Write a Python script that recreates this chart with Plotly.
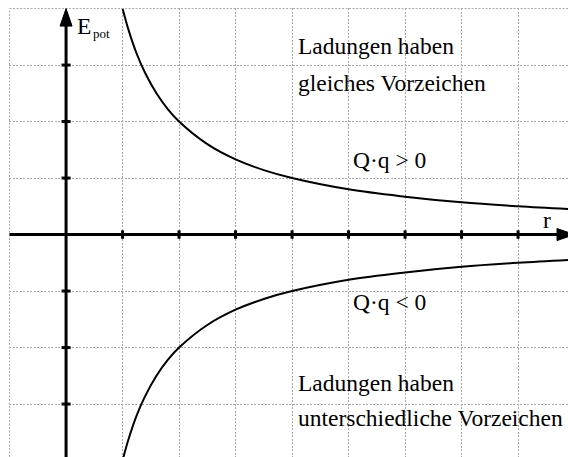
import plotly.graph_objects as go

# Sample points of the potential energy curves (r, E_pot)
r_values = [1.0, 1.1, 1.25, 1.4, 1.6, 1.8, 2.0, 2.5, 3.0, 3.5, 4.0, 5.0, 6.0, 7.0, 8.0, 8.9]
e_same_sign = [4.0, 3.64, 3.2, 2.86, 2.5, 2.22, 2.0, 1.6, 1.33, 1.14, 1.0, 0.8, 0.67, 0.57, 0.5, 0.45]
e_opposite_sign = [-4.0, -3.64, -3.2, -2.86, -2.5, -2.22, -2.0, -1.6, -1.33, -1.14, -1.0, -0.8, -0.67, -0.57, -0.5, -0.45]

x_ticks = [1, 2, 3, 4, 5, 6, 7, 8]
y_ticks = [-3, -2, -1, 1, 2, 3]

X_MIN, X_MAX = -1.01, 8.884
Y_MIN, Y_MAX = -3.937, 4.01

FONT = "Liberation Serif, Times New Roman, Times, serif"
GRID = "#a8a8a8"
GRID_DASH = "2px,1.5px"

fig = go.Figure()

fig.add_trace(go.Scatter(x=r_values, y=e_same_sign, mode="lines",
                         line=dict(color="black", width=2, shape="spline"),
                         hoverinfo="skip", showlegend=False))
fig.add_trace(go.Scatter(x=r_values, y=e_opposite_sign, mode="lines",
                         line=dict(color="black", width=2, shape="spline"),
                         hoverinfo="skip", showlegend=False))

shapes = []
# dotted frame on the top and left edges of the grid
shapes.append(dict(type="line", xref="x", yref="y", x0=-1, x1=X_MAX, y0=4, y1=4,
                   line=dict(color=GRID, width=1, dash=GRID_DASH)))
shapes.append(dict(type="line", xref="x", yref="y", x0=-1, x1=-1, y0=Y_MIN, y1=4,
                   line=dict(color=GRID, width=1, dash=GRID_DASH)))

# coordinate axes
shapes.append(dict(type="line", xref="x", yref="y", x0=-1, x1=8.72, y0=0, y1=0,
                   line=dict(color="black", width=3)))
shapes.append(dict(type="line", xref="x", yref="y", x0=0, x1=0, y0=Y_MIN, y1=3.75,
                   line=dict(color="black", width=3)))
# arrowheads
shapes.append(dict(type="path", xref="x", yref="y",
                   path="M 0,4.0 L -0.106,3.69 L 0.106,3.69 Z",
                   fillcolor="black", line=dict(color="black", width=1)))
shapes.append(dict(type="path", xref="x", yref="y",
                   path="M 9.0,0 L 8.69,0.106 L 8.69,-0.106 Z",
                   fillcolor="black", line=dict(color="black", width=1)))

# tick marks on the axes
for t in x_ticks:
    shapes.append(dict(type="line", xref="x", yref="y", x0=t, x1=t, y0=-0.075, y1=0.075,
                       line=dict(color="black", width=3)))
for t in y_ticks:
    shapes.append(dict(type="line", xref="x", yref="y", x0=-0.08, x1=0.08, y0=t, y1=t,
                       line=dict(color="black", width=3)))

fig.update_layout(shapes=shapes)

TXT = dict(family=FONT, size=23.5, color="black")
SUB = dict(family=FONT, size=13, color="black")
annotations = [
    dict(x=4.07, y=3.33, text="Ladungen haben", xanchor="left", yanchor="middle", font=TXT),
    dict(x=4.07, y=2.69, text="gleiches Vorzeichen", xanchor="left", yanchor="middle", font=TXT),
    dict(x=5.73, y=1.32, text="Q·q > 0", xanchor="center", yanchor="middle", font=TXT),
    dict(x=5.73, y=-1.2, text="Q·q < 0", xanchor="center", yanchor="middle", font=TXT),
    dict(x=4.07, y=-2.62, text="Ladungen haben", xanchor="left", yanchor="middle", font=TXT),
    dict(x=4.07, y=-3.24, text="unterschiedliche Vorzeichen", xanchor="left", yanchor="middle", font=TXT),
    dict(x=8.51, y=0.25, text="r", xanchor="center", yanchor="middle", font=TXT),
    # axis name E_pot: main letter plus lowered index
    dict(x=0.16, y=3.69, text="E", xanchor="left", yanchor="middle", font=TXT),
    dict(x=0.44, y=3.56, text="pot", xanchor="left", yanchor="middle", font=SUB),
]
for a in annotations:
    a.update(xref="x", yref="y", showarrow=False)
fig.update_layout(annotations=annotations)

axis_common = dict(showgrid=True, gridcolor=GRID, griddash=GRID_DASH, gridwidth=1,
                   zeroline=False, showticklabels=False, ticks="", showline=False,
                   dtick=1, tick0=0, fixedrange=True)
fig.update_xaxes(range=[X_MIN, X_MAX], **axis_common)
fig.update_yaxes(range=[Y_MIN, Y_MAX], **axis_common)

fig.update_layout(width=568, height=457,
                  margin=dict(l=9, r=0, t=8, b=0),
                  plot_bgcolor="white", paper_bgcolor="white",
                  font=dict(family=FONT),
                  showlegend=False)

fig.write_html("out.html", config={"displayModeBar": False})
